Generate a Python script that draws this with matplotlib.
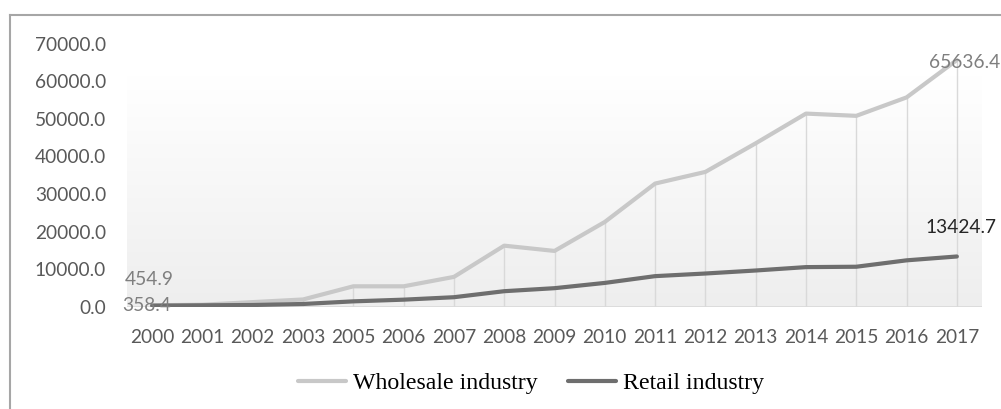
import numpy as np
import matplotlib.pyplot as plt
from matplotlib.lines import Line2D
from matplotlib.colors import LinearSegmentedColormap

years = ["2000", "2001", "2002", "2003", "2005", "2006", "2007", "2008", "2009",
         "2010", "2011", "2012", "2013", "2014", "2015", "2016", "2017"]
wholesale = [454.9, 600, 1300, 2000, 5500, 5500, 8000, 16300, 14900,
             22600, 32800, 35900, 43500, 51400, 50800, 55700, 65636.4]
retail = [358.4, 450, 530, 800, 1500, 1950, 2600, 4200, 5000,
          6400, 8200, 8900, 9700, 10600, 10700, 12400, 13424.7]
yticks = [0, 10000, 20000, 30000, 40000, 50000, 60000, 70000]

plt.rcParams["font.family"] = ["Lato", "DejaVu Sans"]
fs = 13.8

fig = plt.figure(figsize=(10.01, 4.09), dpi=100)
ax = fig.add_axes([127 / 1001, 1 - 307 / 409, 855 / 1001, (307 - 43.6) / 409])

x = np.arange(len(years))
ax.set_xlim(-0.5, len(years) - 0.5)
ax.set_ylim(0, 70000)

# plot area fill: white at the top fading to light grey at the axis
grad = LinearSegmentedColormap.from_list("bg", ["#eeeeee", "#ffffff"])
ax.imshow(np.linspace(0, 1, 256).reshape(-1, 1), cmap=grad, aspect="auto",
          origin="lower", extent=(-0.5, len(years) - 0.5, 0, 61200), zorder=0)

# drop lines from the higher series down to the axis
ax.vlines(x, 0, np.maximum(wholesale, retail), color="#d9d9d9", lw=1, zorder=1)
ax.axhline(0, color="#d9d9d9", lw=1.2, zorder=1)

ax.plot(x, wholesale, color="#c8c8c8", lw=3, solid_capstyle="round",
        label="Wholesale industry", zorder=3)
ax.plot(x, retail, color="#6e6e6e", lw=3, solid_capstyle="round",
        label="Retail industry", zorder=4)

lab = dict(textcoords="offset pixels", ha="center", va="center", fontsize=fs)
ax.annotate(f"{wholesale[0]:.1f}", (x[0], wholesale[0]), xytext=(-3, 26),
            color="#7f7f7f", **lab)
ax.annotate(f"{retail[0]:.1f}", (x[0], retail[0]), xytext=(-5, 0),
            color="#7f7f7f", zorder=5, **lab)
ax.annotate(f"{wholesale[-1]:.1f}", (x[-1], wholesale[-1]), xytext=(8, -2),
            color="#7f7f7f", **lab)
ax.annotate(f"{retail[-1]:.1f}", (x[-1], retail[-1]), xytext=(4, 29),
            color="#262626", **lab)

ax.set_xticks(x)
ax.set_xticklabels(years)
ax.set_yticks(yticks)
ax.set_yticklabels([f"{v:.1f}" for v in yticks])
ax.tick_params(axis="both", length=0, colors="#595959", labelsize=fs)
ax.tick_params(axis="x", pad=16)
ax.tick_params(axis="y", pad=15)
for s in ax.spines.values():
    s.set_visible(False)

fig.legend(handles=ax.get_lines()[-2:], loc="center", ncol=2,
           bbox_to_anchor=(531 / 1001, 1 - 383 / 409), frameon=False,
           prop={"family": "Liberation Serif", "size": 17.2},
           handlelength=2.0, handletextpad=0.3, columnspacing=1.25)

# chart frame (top and left edges)
fig.add_artist(Line2D([10 / 1001, 1], [1 - 15 / 409] * 2, color="#a6a6a6", lw=1.5))
fig.add_artist(Line2D([10 / 1001] * 2, [0, 1 - 15 / 409], color="#a6a6a6", lw=1.5))

plt.savefig("out.png", dpi=100)
